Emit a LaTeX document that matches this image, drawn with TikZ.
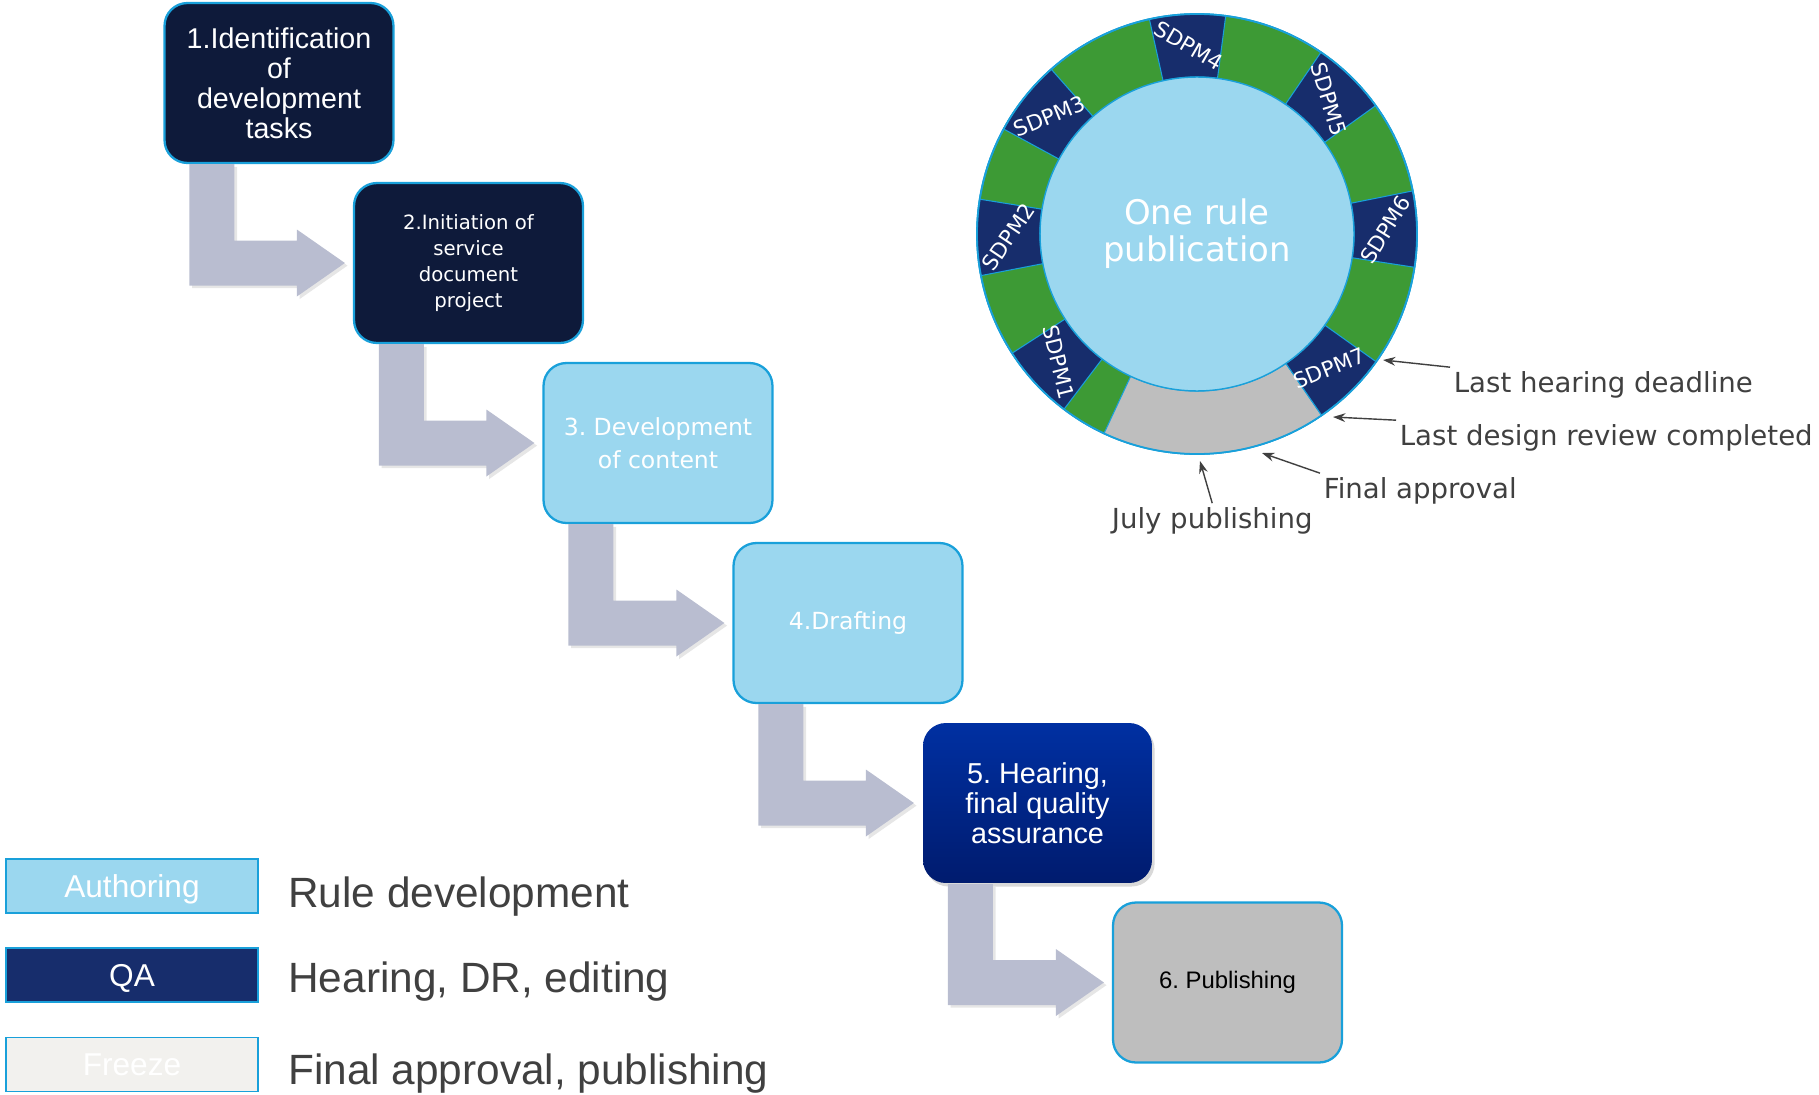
\documentclass[tikz,border=0pt]{standalone}
\usepackage{fontspec}
\setmainfont{Liberation Sans}
\newfontfamily\verd{DejaVu Sans}
\usetikzlibrary{arrows.meta,calc,shadows}
\frenchspacing

\definecolor{navybox}{HTML}{0E1A3A}
\definecolor{skyfill}{HTML}{9BD7EF}
\definecolor{cyanline}{HTML}{19A0DA}
\definecolor{ringnavy}{HTML}{172D6C}
\definecolor{ringgreen}{HTML}{3D9A35}
\definecolor{ringgrey}{HTML}{BEBEBE}
\definecolor{bentgrey}{HTML}{B9BDD0}
\definecolor{labelgrey}{HTML}{404040}
\definecolor{freezefill}{HTML}{F2F1EE}
\definecolor{heartop}{HTML}{0030A2}
\definecolor{hearbot}{HTML}{001B6E}

\tikzset{
	stage/.style={draw=cyanline,line width=1.3pt,rounded corners=13pt,minimum width=4.58cm,minimum height=3.2cm,align=center,inner sep=2pt},
	bent/.style={fill=bentgrey,drop shadow={opacity=0.2,shadow xshift=1.5pt,shadow yshift=-1.5pt}},
	seg/.style={draw=cyanline,line width=0.6pt},
	segtext/.style={text=white,font=\verd\fontsize{12.2}{13}\selectfont,inner sep=0pt},
	note/.style={text=labelgrey,font=\verd\fontsize{15.7}{17}\selectfont,inner sep=2pt,anchor=base west},
	pointer/.style={-{Stealth[length=7pt,width=5pt]},line width=0.8pt,draw=labelgrey},
	key/.style={draw=cyanline,line width=0.9pt,minimum width=5.04cm,minimum height=1.08cm,text=white,
		text height=12.9pt,text depth=0pt,font=\fontsize{18}{20}\selectfont},
	keytext/.style={text=labelgrey,font=\fontsize{24.1}{26}\selectfont,inner sep=0pt,anchor=base west}
}

\begin{document}
\begin{tikzpicture}[x=0.02cm,y=-0.02cm]
	\useasboundingbox (0,0) rectangle (1819,1095);
	
	% the six steps
	\node[stage,fill=navybox,text=white,font=\fontsize{16.3}{17}\selectfont] (s1) at (279,83) {1.Identification\\of\\development\\tasks};
	\node[stage,fill=navybox,text=white,font=\verd\fontsize{11.2}{14.7}\selectfont] (s2) at (468.5,263) {2.Initiation of\\service\\document\\project};
	\node[stage,fill=skyfill,text=white,font=\verd\fontsize{13.4}{18.7}\selectfont] (s3) at (658,443) {3. Development\\of content};
	\node[stage,fill=skyfill,text=white,font=\verd\fontsize{13.4}{18.7}\selectfont] (s4) at (848,623) {4.Drafting};
	\node[stage,draw=none,top color=heartop,bottom color=hearbot,text=white,font=\fontsize{16.4}{17}\selectfont,
		drop shadow={opacity=0.3,shadow xshift=1.5pt,shadow yshift=-2pt}] (s5) at (1037.5,803) {5. Hearing,\\final quality\\assurance};
	\node[stage,fill=ringgrey,text=black,font=\fontsize{13.6}{16}\selectfont] (s6) at (1227.5,982.5) {6. Publishing};
	
	\foreach \a/\b in {s1/s2,s2/s3,s3/s4,s4/s5,s5/s6}
		\fill[bent] ($(\a.south west)+(26,0)$) -- ($(\a.south west |- \b.west)+(26,22.5)$)
			-- ($(\b.west)+(-56,22.5)$) -- ($(\b.west)+(-56,33.5)$) -- ($(\b.west)+(-8,0)$)
			-- ($(\b.west)+(-56,-33.5)$) -- ($(\b.west)+(-56,-22.5)$)
			-- ($(\a.south west |- \b.west)+(71,-22.5)$) -- ($(\a.south west)+(71,0)$) -- cycle;
	
	% publication wheel
	\begin{scope}[shift={(1197,234)},yscale=-1]
		\filldraw[fill=ringgreen,draw=cyanline,line width=1pt] (0,0) circle[radius=220];
		\filldraw[seg,fill=ringgrey] (-115:157) arc[start angle=-115,end angle=-55.5,radius=157]
			-- (-55.5:220) arc[start angle=-55.5,end angle=-115,radius=220] -- cycle;
		\foreach \a/\r/\n in {92.5/-30/4,45.7/-73/5,1.3/58/6,-45.5/22/7,222.8/-76/1,180.9/56/2,141.5/22/3}{
			\filldraw[seg,fill=ringnavy] ({\a-10}:157) arc[start angle=\a-10,end angle=\a+10,radius=157]
				-- ({\a+10}:220) arc[start angle=\a+10,end angle=\a-10,radius=220] -- cycle;
			\node[segtext,rotate=\r] (sdpm\n) at (\a:188.5) {SDPM\n};
		}
		\node[circle,fill=skyfill,draw=cyanline,line width=0.8pt,minimum size=6.28cm,text=white,align=center,
			font=\verd\fontsize{19.3}{21}\selectfont] (hub) at (0,0) {One rule\\publication};
		\draw[cyanline,line width=1pt] (0,0) circle[radius=220];
	\end{scope}
	
	\node[note] (lhd) at (1450,392) {Last hearing deadline};
	\node[note] (ldr) at (1396,445) {Last design review completed};
	\node[note] (fap) at (1320,498) {Final approval};
	\node[note] (jpb) at (1108,528) {July publishing};
	\coordinate (tipA) at (1383,360);
	\coordinate (tipB) at (1333,417);
	\coordinate (tipC) at (1262,453);
	\coordinate (tipD) at (1200,461);
	\draw[pointer] (lhd.north west) -- (tipA);
	\draw[pointer] (ldr.north west) -- (tipB);
	\draw[pointer] (fap.north west) -- (tipC);
	\draw[pointer] (jpb.north) -- (tipD);
	
	% legend
	\node[key,fill=skyfill] (kauth) at (132,886) {Authoring};
	\node[key,fill=ringnavy] (kqa) at (132,975) {QA};
	\node[key,fill=freezefill] (kfrz) at (132,1064.5) {Freeze};
	\node[keytext] (tauth) at (288,907) {Rule development};
	\node[keytext] (tqa) at (288,992) {Hearing, DR, editing};
	\node[keytext] (tfrz) at (288,1084) {Final approval, publishing};
\end{tikzpicture}
\end{document}
